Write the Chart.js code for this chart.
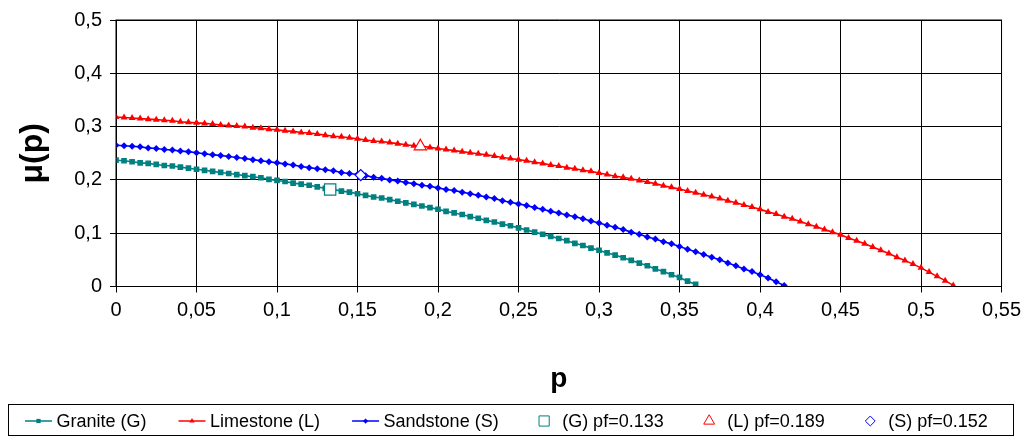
<!DOCTYPE html>
<html>
<head>
<meta charset="utf-8">
<script src="https://cdn.jsdelivr.net/npm/chart.js@4/dist/chart.umd.min.js"></script>
<style>
    html, body { margin: 0; padding: 0; background: #fff; }
    #wrap { width: 1027px; height: 438px; }
</style>
</head>
<body>
<div id="wrap"><canvas id="chart" width="1027" height="438"></canvas></div>
<script>
// p values (every 0.005)
const pValues = [
    0, 0.005, 0.01, 0.015, 0.02, 0.025, 0.03, 0.035, 0.04, 0.045,
    0.05, 0.055, 0.06, 0.065, 0.07, 0.075, 0.08, 0.085, 0.09, 0.095,
    0.1, 0.105, 0.11, 0.115, 0.12, 0.125, 0.13, 0.135, 0.14, 0.145,
    0.15, 0.155, 0.16, 0.165, 0.17, 0.175, 0.18, 0.185, 0.19, 0.195,
    0.2, 0.205, 0.21, 0.215, 0.22, 0.225, 0.23, 0.235, 0.24, 0.245,
    0.25, 0.255, 0.26, 0.265, 0.27, 0.275, 0.28, 0.285, 0.29, 0.295,
    0.3, 0.305, 0.31, 0.315, 0.32, 0.325, 0.33, 0.335, 0.34, 0.345,
    0.35, 0.355, 0.36, 0.365, 0.37, 0.375, 0.38, 0.385, 0.39, 0.395,
    0.4, 0.405, 0.41, 0.415, 0.42, 0.425, 0.43, 0.435, 0.44, 0.445,
    0.45, 0.455, 0.46, 0.465, 0.47, 0.475, 0.48, 0.485, 0.49, 0.495,
    0.5, 0.505, 0.51, 0.515, 0.52
];

const muGranite = [
    0.237, 0.236, 0.234, 0.232, 0.231, 0.229, 0.227, 0.226, 0.224, 0.222,
    0.220, 0.218, 0.216, 0.214, 0.212, 0.210, 0.208, 0.206, 0.204, 0.201,
    0.199, 0.197, 0.194, 0.192, 0.190, 0.187, 0.184, 0.182, 0.179, 0.177,
    0.174, 0.171, 0.168, 0.166, 0.163, 0.160, 0.157, 0.154, 0.151, 0.148,
    0.145, 0.141, 0.138, 0.135, 0.131, 0.128, 0.124, 0.121, 0.117, 0.114,
    0.110, 0.106, 0.102, 0.098, 0.094, 0.090, 0.086, 0.081, 0.077, 0.072,
    0.068, 0.063, 0.059, 0.054, 0.049, 0.044, 0.039, 0.033, 0.028, 0.022,
    0.017, 0.010, 0.004
];

const muLimestone = [
    0.318, 0.317, 0.316, 0.315, 0.314, 0.313, 0.312, 0.311, 0.309, 0.308,
    0.307, 0.306, 0.305, 0.303, 0.302, 0.301, 0.300, 0.298, 0.297, 0.295,
    0.294, 0.292, 0.291, 0.289, 0.288, 0.286, 0.284, 0.282, 0.281, 0.279,
    0.277, 0.275, 0.273, 0.272, 0.270, 0.268, 0.266, 0.264, 0.263, 0.261,
    0.259, 0.257, 0.255, 0.253, 0.251, 0.249, 0.247, 0.245, 0.242, 0.240,
    0.238, 0.236, 0.233, 0.231, 0.228, 0.226, 0.223, 0.221, 0.218, 0.216,
    0.213, 0.210, 0.207, 0.205, 0.202, 0.199, 0.196, 0.193, 0.189, 0.186,
    0.183, 0.179, 0.176, 0.172, 0.169, 0.165, 0.161, 0.157, 0.153, 0.149,
    0.145, 0.140, 0.136, 0.131, 0.127, 0.122, 0.117, 0.112, 0.107, 0.102,
    0.097, 0.091, 0.086, 0.080, 0.074, 0.068, 0.062, 0.055, 0.049, 0.042,
    0.035, 0.027, 0.019, 0.011, 0.002
];

const muSandstone = [
    0.265, 0.264, 0.263, 0.262, 0.260, 0.259, 0.257, 0.256, 0.254, 0.253,
    0.251, 0.249, 0.247, 0.246, 0.244, 0.242, 0.240, 0.238, 0.236, 0.234,
    0.232, 0.230, 0.228, 0.225, 0.223, 0.221, 0.219, 0.217, 0.214, 0.212,
    0.210, 0.208, 0.205, 0.203, 0.200, 0.198, 0.195, 0.193, 0.190, 0.188,
    0.185, 0.182, 0.180, 0.177, 0.174, 0.171, 0.168, 0.165, 0.161, 0.158,
    0.155, 0.152, 0.148, 0.145, 0.141, 0.138, 0.134, 0.131, 0.127, 0.123,
    0.119, 0.115, 0.111, 0.107, 0.102, 0.098, 0.093, 0.089, 0.084, 0.080,
    0.075, 0.070, 0.065, 0.060, 0.055, 0.050, 0.044, 0.039, 0.033, 0.028,
    0.022, 0.016, 0.009, 0.002
];

// pf points
const pfLabels = ["(G) pf=0.133", "(L) pf=0.189", "(S) pf=0.152"];
const pfP = [0.133, 0.189, 0.152];
const pfMu = [0.182, 0.263, 0.209];

const seriesLabels = ["Granite (G)", "Limestone (L)", "Sandstone (S)"];
const colors = ["#008080", "#FF0000", "#0000FF"];

function toPoints(mu)
{
    return mu.map((m, i) => ({ x: pValues[i], y: m }));
}

function commaTick(value)
{
    let v = Math.round(value * 100) / 100;
    return String(v).replace('.', ',');
}

// legend at the bottom, framed in a box like the original
const boxLegend = {
    id: 'boxLegend',
    afterDraw(chart)
    {
        const ctx = chart.ctx;
        ctx.save();
        ctx.strokeStyle = '#000';
        ctx.lineWidth = 1;
        ctx.strokeRect(8.5, 404.5, 1005, 31);

        ctx.font = '18px "Liberation Sans", Arial, sans-serif';
        ctx.textBaseline = 'middle';
        const cy = 421;
        let x = 25;
        chart.data.datasets.forEach(ds =>
        {
            const mid = x + 13.5;
            ctx.strokeStyle = ds.borderColor;
            if (ds.showLine)
            {
                ctx.lineWidth = 1.5;
                ctx.beginPath();
                ctx.moveTo(x, cy);
                ctx.lineTo(x + 27, cy);
                ctx.stroke();
            }
            ctx.fillStyle = ds.pointBackgroundColor;
            ctx.lineWidth = 1;
            Chart.helpers.drawPoint(ctx, {
                pointStyle: ds.pointStyle,
                rotation: 0,
                radius: ds.showLine ? ds.pointRadius * 0.75 : ds.pointRadius * 0.9,
                borderWidth: ds.showLine ? 0 : 1
            }, mid, cy);
            ctx.fillStyle = '#000';
            ctx.fillText(ds.label, x + 31.5, cy + 1);
            x += 31.5 + ctx.measureText(ds.label).width + 32;
        });
        ctx.restore();
    }
};

const pointStyles = ["rect", "triangle", "rectRot"];
const seriesRadius = [4, 4, 3.5];
const pfRadius = [8, 7, 5.5];
const muSeries = [muGranite, muLimestone, muSandstone];

let datasets = [];
for (let i = 0; i < 3; i++)
{
    datasets.push({
        label: seriesLabels[i],
        data: toPoints(muSeries[i]),
        showLine: true,
        borderColor: colors[i],
        backgroundColor: colors[i],
        borderWidth: 1.6,
        pointStyle: pointStyles[i],
        pointRadius: seriesRadius[i],
        pointBackgroundColor: colors[i],
        pointBorderColor: colors[i],
        pointBorderWidth: 0,
        tension: 0,
        order: 1
    });
}
for (let i = 0; i < 3; i++)
{
    datasets.push({
        label: pfLabels[i],
        data: [{ x: pfP[i], y: pfMu[i] }],
        showLine: false,
        borderColor: colors[i],
        backgroundColor: '#fff',
        pointStyle: pointStyles[i],
        pointRadius: pfRadius[i],
        pointBackgroundColor: '#fff',
        pointBorderColor: colors[i],
        pointBorderWidth: 1.2,
        order: 0
    });
}

const ctx = document.getElementById('chart').getContext('2d');
new Chart(ctx, {
    type: 'scatter',
    data: { datasets: datasets },
    options: {
        responsive: false,
        animation: false,
        devicePixelRatio: 1,
        layout: { padding: { left: 0, right: 24, top: 18, bottom: 38 } },
        plugins: {
            legend: { display: false },
            tooltip: { enabled: false }
        },
        scales: {
            x: {
                type: 'linear',
                min: 0,
                max: 0.55,
                afterFit: (scale) => { scale.height = 113.5; },
                ticks: {
                    stepSize: 0.05,
                    color: '#000',
                    font: { family: '"Liberation Sans", Arial', size: 20 },
                    padding: 6,
                    callback: commaTick,
                    maxRotation: 0
                },
                grid: { color: '#000', lineWidth: 1, tickLength: 6 },
                border: { color: '#000', width: 1 },
                title: {
                    display: true,
                    text: 'p',
                    color: '#000',
                    font: { family: '"Liberation Sans", Arial', size: 28, weight: 'bold' },
                    padding: { top: 24 }
                }
            },
            y: {
                type: 'linear',
                min: 0,
                max: 0.5,
                afterFit: (scale) => { scale.width = 116; },
                ticks: {
                    stepSize: 0.1,
                    color: '#000',
                    font: { family: '"Liberation Sans", Arial', size: 20 },
                    padding: 8,
                    callback: commaTick
                },
                grid: { color: '#000', lineWidth: 1, tickLength: 6 },
                border: { color: '#000', width: 1 },
                title: {
                    display: true,
                    text: 'μ(p)',
                    color: '#000',
                    font: { family: '"Liberation Sans", Arial', size: 32, weight: 'bold' },
                    padding: { top: 14 }
                }
            }
        }
    },
    plugins: [boxLegend, {
        id: 'frame',
        afterDraw(chart)
        {
            const a = chart.chartArea;
            const c = chart.ctx;
            c.save();
            c.strokeStyle = '#000';
            c.lineWidth = 1;
            c.strokeRect(a.left, a.top, a.right - a.left, a.bottom - a.top);
            c.restore();
        }
    }]
});
</script>
</body>
</html>
